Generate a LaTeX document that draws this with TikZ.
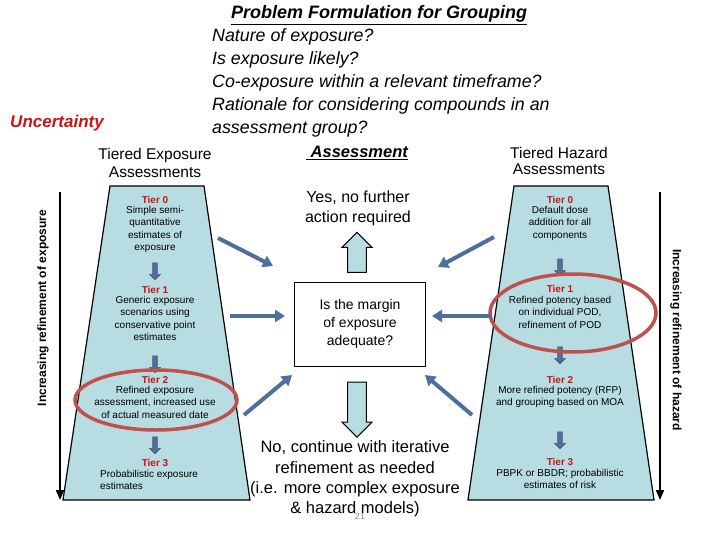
\documentclass[tikz,border=0pt]{standalone}
\usepackage{fontspec}
\setmainfont{Liberation Sans}
\usetikzlibrary{arrows.meta,shapes.arrows}
\definecolor{trap}{RGB}{183,221,226}
\definecolor{tierred}{RGB}{200,20,20}
\definecolor{ellred}{RGB}{192,80,77}
\definecolor{arrblue}{RGB}{79,110,160}
\begin{document}
\begin{tikzpicture}[x=1pt,y=-1pt,
  tiertxt/.style={align=center,font=\fontsize{10}{12.5}\selectfont,inner sep=0pt},
  tierlab/.style={font=\fontsize{10}{12}\selectfont\bfseries,text=tierred,inner sep=0pt},
  bigtxt/.style={align=center,font=\fontsize{16}{20}\selectfont,inner sep=0pt},
  smalldown/.style={single arrow,draw=black!70,fill=arrblue,shape border rotate=270,minimum height=17pt,minimum width=11pt,single arrow head extend=2pt,inner sep=1.5pt},
  bigarrow/.style={single arrow,draw=black,line width=1pt,fill=trap,minimum height=55pt,minimum width=30pt,single arrow head extend=4pt,inner sep=6pt},
  diag/.style={draw=arrblue,line width=4pt,-{Triangle[length=10pt,width=12pt]}},
  ell/.style={draw=ellred,line width=3.5pt}]
\useasboundingbox (0,0) rectangle (720,540);
\fill[white] (0,0) rectangle (720,540);
% trapezoids
\draw[fill=trap,line width=1.2pt] (110,186) -- (204,186) -- (250,500) -- (63,500) -- cycle;
\draw[fill=trap,line width=1.2pt] (514,186) -- (608,186) -- (654,500) -- (468,500) -- cycle;
% side arrows
\coordinate (la0) at (60,192); \coordinate (la1) at (60,500);
\draw[line width=2pt,-{Triangle[length=10pt,width=8pt]}] (la0) -- (la1);
\node[rotate=90,font=\fontsize{12}{12}\selectfont\bfseries] (lal) at (43,308) {Increasing refinement of exposure};
\coordinate (ra0) at (660,192); \coordinate (ra1) at (660,500);
\draw[line width=2pt,-{Triangle[length=10pt,width=8pt]}] (ra0) -- (ra1);
\node[rotate=-90,font=\fontsize{12}{12}\selectfont\bfseries] (ral) at (676,340) {Increasing refinement of hazard};
% titles
\node[font=\fontsize{18}{20}\selectfont\bfseries\itshape] (title) at (379,15) {\underline{Problem Formulation for Grouping}};
\node[anchor=north west,align=left,font=\fontsize{17.8}{23}\selectfont\itshape,inner sep=0pt] (qs) at (212,28) {Nature of exposure?\\Is exposure likely?\\Co-exposure within a relevant timeframe?\\Rationale for considering compounds in an\\assessment group?};
\node[font=\fontsize{17}{18}\selectfont\bfseries\itshape,text=tierred] (unc) at (57,123) {Uncertainty};
\node[bigtxt,font=\fontsize{15.5}{18}\selectfont] (tea) at (155,163) {Tiered Exposure\\Assessments};
\node[bigtxt,font=\fontsize{15.5}{15.5}\selectfont] (tha) at (559,161) {Tiered Hazard\\Assessments};
\node[font=\fontsize{16.5}{18}\selectfont\bfseries\itshape] (ass) at (357,153) {\underline{ Assessment}};
% left tiers
\node[tierlab] (l0) at (155,200) {Tier 0};
\node[tiertxt,anchor=north] (l0t) at (155,206) {Simple semi-\\quantitative\\estimates of\\exposure};
\node[smalldown] (la01) at (155,270) {};
\node[tierlab] (l1) at (155,290) {Tier 1};
\node[tiertxt,anchor=north] (l1t) at (155,296) {Generic exposure\\scenarios using\\conservative point\\estimates};
\node[smalldown] (la12) at (155,363) {};
\node[tierlab] (l2) at (155,380) {Tier 2};
\node[tiertxt,anchor=north] (l2t) at (155,386) {Refined exposure\\assessment, increased use\\of actual measured date};
\node[smalldown] (la23) at (155,444) {};
\node[tierlab] (l3) at (155,463) {Tier 3};
\node[tiertxt,anchor=north west,align=left] (l3t) at (100,470) {Probabilistic exposure\\estimates};
% right tiers
\node[tierlab] (r0) at (560,200) {Tier 0};
\node[tiertxt,anchor=north] (r0t) at (560,206) {Default dose\\addition for all\\components};
\node[smalldown] (ra01) at (560,266) {};
\node[tierlab] (r1) at (560,289) {Tier 1};
\node[tiertxt,anchor=north] (r1t) at (560,296) {Refined potency based\\on individual POD,\\refinement of POD};
\node[smalldown] (ra12) at (560,354) {};
\node[tierlab] (r2) at (560,380) {Tier 2};
\node[tiertxt,anchor=north] (r2t) at (560,386) {More refined potency (RFP)\\and grouping based on MOA};
\node[smalldown] (ra23) at (560,439) {};
\node[tierlab] (r3) at (560,462) {Tier 3};
\node[tiertxt,anchor=north] (r3t) at (560,469) {PBPK or BBDR; probabilistic\\estimates of risk};
% ellipses
\draw[ell] (156,400) ellipse [x radius=81,y radius=30];
\draw[ell] (573,313) ellipse [x radius=83,y radius=39];
% center
\node[draw,line width=1pt,minimum width=131pt,minimum height=84pt,bigtxt,font=\fontsize{14}{18}\selectfont] (box) at (360,324) {Is the margin\\of exposure\\adequate?};
\node[bigtxt] (yes) at (358,208) {Yes, no further\\action required};
\node[bigarrow,shape border rotate=90,minimum height=40pt] (up) at (357,257) {};
\node[bigarrow,shape border rotate=270] (down) at (357,405) {};
\node[font=\fontsize{9}{10}\selectfont,text=black!45] (pg) at (360,516) {21};
\node[bigtxt,font=\fontsize{16.5}{20.3}\selectfont] (no) at (355,479) {No, continue with iterative\\refinement as needed\\(i.e. more complex exposure\\\& hazard models)};
% diagonal arrows
\coordinate (d1) at (218,238); \coordinate (d1e) at (273,266);
\coordinate (d2) at (230,316); \coordinate (d2e) at (285,316);
\coordinate (d3) at (244,415); \coordinate (d3e) at (292,375);
\coordinate (d4) at (494,237); \coordinate (d4e) at (438,267);
\coordinate (d5) at (492,316); \coordinate (d5e) at (432,316);
\coordinate (d6) at (472,415); \coordinate (d6e) at (425,375);
\foreach \a/\b in {d1/d1e,d2/d2e,d3/d3e,d4/d4e,d5/d5e,d6/d6e}
  \draw[diag] (\a) -- (\b);
\end{tikzpicture}
\end{document}
